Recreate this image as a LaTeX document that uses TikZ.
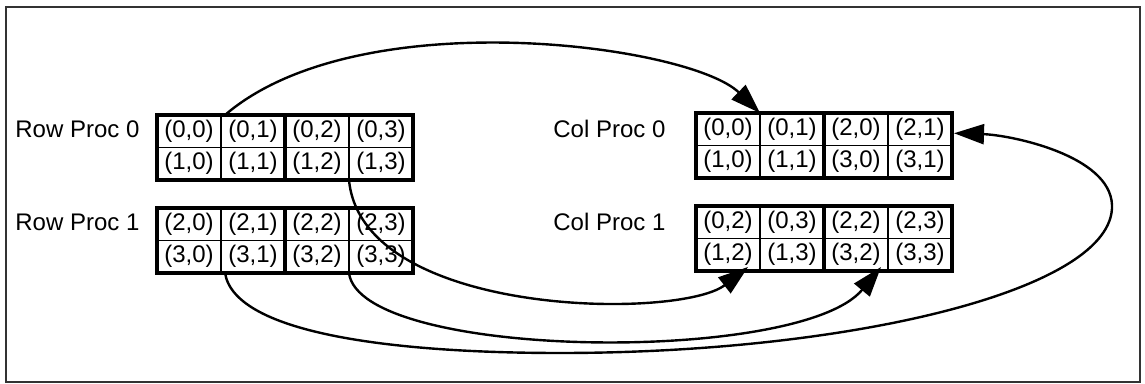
\documentclass[tikz,border=0pt]{standalone}
\usepackage{fontspec}
\setmainfont{Liberation Sans}
\usetikzlibrary{arrows.meta,positioning}

\begin{document}
\begin{tikzpicture}[
  x=0.5pt, y=-0.5pt,
  cell/.style={
    rectangle,
    draw,
    minimum width=32pt,
    minimum height=16.25pt,
    inner sep=0pt,
    outer sep=0pt,
    line width=0.7pt,
    font=\fontsize{12}{14}\selectfont
  },
  blk/.style={line width=2pt},
  lbl/.style={font=\fontsize{12}{14}\selectfont, anchor=base west, inner sep=0pt},
  flow/.style={line width=1.2pt, -{Triangle[length=15pt,width=10pt]}}
]

\useasboundingbox (0,0) rectangle (1145,384);
\draw[line width=0.7pt, black!80] (6,7) rectangle (1140,382);

% --- Row Proc blocks: rows 2p and 2p+1, all columns ---
\foreach \p/\y in {0/115, 1/208} {
  \node[lbl] (rowlbl\p) at (15, \y+23) {Row Proc \p};
  \foreach \r in {0,1} {
    \foreach \c in {0,...,3} {
      \pgfmathtruncatemacro{\a}{2*\p+\r}
      \node[cell] (rp\p-\r\c) at (157+64*\c+32, \y+32.5*\r+16.25) {(\a,\c)};
    }
  }
  \draw[blk] (rp\p-00.north west) rectangle (rp\p-13.south east);
  \draw[blk] (rp\p-02.north west) -- (rp\p-12.south west);
}

% --- Col Proc blocks: columns 2p and 2p+1, all rows ---
\foreach \p/\y in {0/113, 1/206} {
  \node[lbl] (collbl\p) at (553, \y+25) {Col Proc \p};
  \foreach \r in {0,1} {
    \foreach \c in {0,...,3} {
      \pgfmathtruncatemacro{\a}{\r+2*int(\c/2)}
      \pgfmathtruncatemacro{\b}{2*\p+mod(\c,2)}
      \node[cell] (cp\p-\r\c) at (696+64*\c+32, \y+32.5*\r+16.25) {(\a,\b)};
    }
  }
  \draw[blk] (cp\p-00.north west) rectangle (cp\p-13.south east);
  \draw[blk] (cp\p-02.north west) -- (cp\p-12.south west);
}

% --- transfers ---
\coordinate (loopbot) at (560,353);
\coordinate (loopside) at (1112,205);

\draw[flow] ([xshift=2pt]rp0-01.north west) .. controls (359,0) and (690,45) .. (cp0-01.north west);
\draw[flow] (rp0-12.south east) .. controls (362,318) and (680,320) .. ([xshift=-6pt,yshift=2pt]cp1-10.south east);
\draw[flow] (rp1-12.south east) .. controls (360,360) and (800,365) .. ([xshift=-3.5pt,yshift=2pt]cp1-12.south east);
\draw[flow] ([xshift=2pt]rp1-10.south east) .. controls (235,335) and (400,353) .. (loopbot)
  .. controls (850,353) and (1115,290) .. (loopside)
  .. controls (1110,155) and (1010,135) .. ([xshift=1pt,yshift=-2pt]cp0-03.east);

\end{tikzpicture}
\end{document}
